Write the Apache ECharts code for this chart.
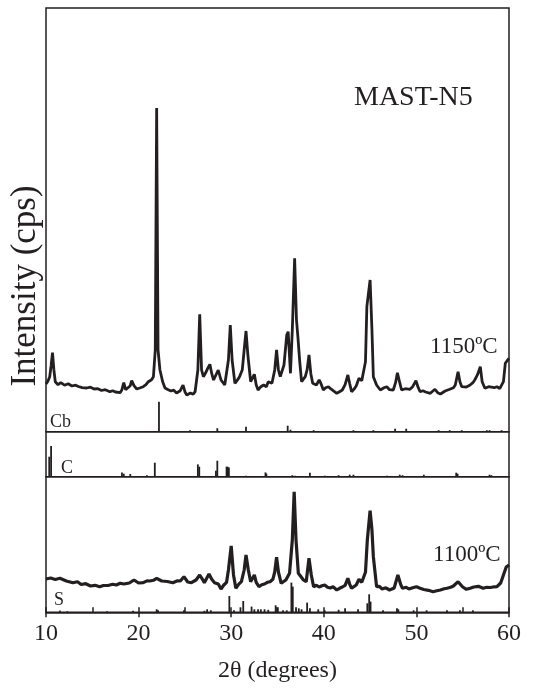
<!DOCTYPE html>
<html>
<head>
<meta charset="utf-8">
<script src="https://cdn.jsdelivr.net/npm/echarts@6/dist/echarts.min.js"></script>
<style>html,body{margin:0;padding:0;background:#fff}#c{width:538px;height:688px}</style>
</head>
<body>
<div id="c"></div>
<script>
// 1150 °C pattern (2θ, intensity in arbitrary cps units)
var t1150 = [10.0,10.2,10.4,10.55,10.7,10.85,11.0,11.3,11.6,12.0,12.4,12.8,13.2,13.5,13.9,14.4,14.8,15.2,15.6,16.0,16.4,16.9,17.2,17.5,18.0,18.2,18.4,18.6,18.8,19.1,19.25,19.5,19.8,20.2,20.5,20.8,21.05,21.4,21.6,21.8,21.95,22.1,22.3,22.6,22.85,23.2,23.5,23.8,24.1,24.5,24.8,25.0,25.2,25.6,25.9,26.1,26.4,26.6,26.8,27.0,27.3,27.5,27.7,27.9,28.1,28.3,28.6,28.9,29.1,29.3,29.7,29.9,30.1,30.4,30.7,30.9,31.2,31.4,31.6,31.8,32.1,32.5,32.7,32.9,33.2,33.5,33.8,34.0,34.4,34.7,34.9,35.1,35.3,35.7,36.0,36.15,36.4,36.6,36.85,37.05,37.2,37.4,37.6,38.0,38.2,38.4,38.6,38.8,39.2,39.5,39.7,39.95,40.2,40.5,40.8,41.0,41.4,41.7,42.0,42.3,42.6,42.8,43.0,43.3,43.5,43.8,44.1,44.3,44.5,44.65,45.0,45.2,45.35,45.7,46.1,46.5,46.8,47.1,47.5,47.75,47.95,48.2,48.4,48.8,49.3,49.6,49.95,50.2,50.4,50.7,51.0,51.5,52.0,52.3,52.6,53.1,53.6,54.0,54.2,54.5,54.7,54.9,55.4,55.8,56.1,56.3,56.6,56.9,57.1,57.4,57.8,58.0,58.4,58.7,59.0,59.2,59.4,59.6,59.8,60.0];
var i1150 = [47.7,50.5,55,66,79,62,50,47,49,46.5,48,45.7,46.5,45.2,44,43.7,44.5,42.7,43,41.2,42,40,41,39.7,39,42,49,42,40,46,51,46,42.7,44,45,47,50,52,55,81.7,323.7,81.7,62,50,43.7,42,40.7,41.5,38.7,41,46.7,40,36.7,38.7,37.5,40,61.7,117.4,61.7,55,60,64,67.4,58,51.7,53.7,61.7,51.7,50,46.7,71.7,106.7,71.7,48.4,52,55,62,81.7,100.7,76.7,50,57.4,47,41.7,45,46.7,45,50,48.4,61.7,81.7,61.7,55,66.7,96.7,100,58.4,101.7,173.4,111.7,95,70,50,55,62,76.7,58,48.4,46.7,51.7,48,41.7,44,45,42.5,40.7,38.4,40,41.7,47,56.7,48,40,43,45.7,53.4,51,50,70,125,151.7,101.7,55,46.7,41.7,44,45,42,41.7,49,59,49,41.7,43,42.4,45,51,44,40,41,39.7,38.4,42.4,39,37.7,40.7,42.4,44,46.7,60,50,45,44.7,46.7,49,51.7,57,65,50,43.4,45,43.7,44,45,43,41.7,50,68.4,71,73.4];

// 1100 °C pattern
var t1100 = [10.0,10.5,11.0,11.5,12.2,12.9,13.4,13.8,14.3,14.8,15.3,15.8,16.2,16.7,17.2,17.6,18.0,18.4,19.0,19.5,20.0,20.5,20.9,21.2,21.6,21.95,22.5,23.1,23.7,24.2,24.5,24.9,25.3,25.7,26.2,26.6,26.9,27.1,27.6,27.9,28.2,28.6,28.9,29.2,29.5,29.7,30.0,30.25,30.5,30.8,31.1,31.4,31.6,31.85,32.1,32.5,32.7,33.0,33.3,33.6,33.9,34.2,34.5,34.7,34.9,35.1,35.4,35.9,36.3,36.6,36.8,37.0,37.25,37.5,37.8,38.1,38.4,38.65,38.9,39.2,39.5,39.8,40.1,40.4,40.7,41.0,41.4,41.7,42.0,42.3,42.6,42.8,43.0,43.5,43.8,44.1,44.3,44.5,44.7,45.0,45.2,45.35,45.7,46.0,46.3,46.7,47.1,47.6,48.0,48.3,48.5,48.9,49.2,49.6,50.0,50.4,50.8,51.3,51.8,52.2,52.6,53.0,53.3,53.7,54.0,54.5,55.0,55.4,55.8,56.2,56.7,57.2,57.6,58.0,58.4,58.7,59.1,59.4,59.7,60.0];
var i1100 = [33.3,34.3,32.8,34,31.3,29.6,30.5,27.8,28.6,26.3,27,25.6,26.8,26.8,28,27.3,29,28.3,29.3,32.3,29.3,29.6,31.5,31.3,32,34,31.3,30.8,29.6,31.5,31.3,35.6,30.3,29.6,32.3,37.3,33,29.6,38.3,33,29.6,28.3,23.3,27.3,30,42.3,66.3,37.3,24,28,30.6,42.3,57.3,42.3,30.6,37.3,30,25.6,27.5,28.3,30,30.6,33,40.3,55,40.3,29,32.3,39,72.3,120.6,72.3,39,36,32.3,30.6,54,37.3,25.6,27,25.3,26.5,27.3,25,24.3,25.5,22.3,24,25.3,27,34,28,24,27.3,33,30,29,40,72.3,101.6,82.3,55.6,25.6,26,23.3,24.5,22.3,24.3,37.3,28,24,25,23.3,24.5,25.6,24,22.8,22,20.6,21.5,22.3,23.5,24,25,26.3,30.6,25.3,23,24,25.3,26,24,25,24.8,25.5,25.6,29.3,37.3,45.3,47.3];

// Reference sticks: Cb (cristobalite), C, S
var cbPos = [22.2,25.55,28.5,31.6,36.1,36.4,38.9,43.2,45.35,47.7,48.9,52.4,53.6,54.9,57.6,57.9,59.2];
var cbInt = [30,1.5,3.5,5,6,2,1.5,1.5,1.5,3,3,1.5,1.5,1.5,1.5,1.5,1.5];
var cPos = [10.35,10.55,18.2,18.4,19.1,20.9,21.75,26.4,26.55,28.35,28.5,29.5,29.6,29.75,31.6,33.7,33.8,36.6,36.9,38.5,40.1,41.6,42.8,43.2,46.8,48.2,48.5,50.8,54.3,54.45,57.9,58.1];
var cInt = [20,30.7,4.3,3,2.7,1.5,14,12.3,10,6,16,10,10,9.3,1,4.3,3,1.5,1,4,1,1.5,2,2,1,2,1.5,2,4,3,2,1.5];
var sPos = [11.5,12.3,16.6,19.4,21.95,22.1,24.9,27.1,27.4,27.8,29.8,30.3,31.0,31.3,32.2,32.5,32.9,33.2,33.6,34.0,34.8,34.95,35.6,36.0,36.5,36.65,37.0,37.3,37.6,38.2,38.5,39.4,40.1,41.6,42.3,43.7,44.7,44.9,45.05,46.4,47.9,48.05,49.7,51.1,53.3,54.7,56.1];
var sInt = [1.7,1,1,1.5,3,2,2,1.5,3,2,16.3,2,5,11.3,5.7,3,3,3,3,2.5,7,5,2,2,29.7,25.7,5,4,3,9.7,4,3,2,2.5,4,3,9,18,10.7,2,4,3,2,2,2,2,2];

var xTicks = [10,20,30,40,50,60];

function pairs(a,b){return a.map(function(v,i){return [v,b[i]];});}

var ink = '#231f20';
var serif = '"Liberation Serif","Times New Roman",serif';
var chart = echarts.init(document.getElementById('c'), null, {renderer:'canvas'});

var gridBase = {left:46, width:463, show:true, borderColor:ink, borderWidth:1.5, backgroundColor:'transparent'};
function hiddenX(gi){return {type:'value', gridIndex:gi, min:10, max:60, show:false};}
function hiddenY(gi,max){return {type:'value', gridIndex:gi, min:0, max:max, show:false};}

chart.setOption({
  animation:false,
  grid:[
    Object.assign({top:8, height:423.7}, gridBase),
    Object.assign({top:431.7, height:45}, gridBase),
    Object.assign({top:476.7, height:135.6}, gridBase)
  ],
  xAxis:[
    hiddenX(0), hiddenX(1),
    {type:'value', gridIndex:2, min:10, max:60, interval:5,
     axisLine:{show:true, lineStyle:{color:ink, width:1.5}},
     axisTick:{show:true, inside:true, length:5, lineStyle:{color:ink, width:1.5}},
     splitLine:{show:false},
     axisLabel:{color:ink, fontFamily:serif, fontSize:24, margin:9,
       formatter:function(v){return xTicks.indexOf(v)>=0 ? String(v) : '';}},
     name:'2\u03b8 (degrees)', nameLocation:'middle', nameGap:46,
     nameTextStyle:{color:ink, fontFamily:serif, fontSize:24}},
    {type:'value', gridIndex:2, min:10, max:60, interval:10, position:'bottom',
     axisLine:{show:false}, axisLabel:{show:false}, splitLine:{show:false},
     axisTick:{show:true, inside:false, length:5, lineStyle:{color:ink, width:1.5}}}
  ],
  yAxis:[hiddenY(0,423.7), hiddenY(1,45), hiddenY(2,135.6)],
  series:[
    {type:'line', xAxisIndex:0, yAxisIndex:0, data:pairs(t1150,i1150), showSymbol:false,
     lineStyle:{color:ink, width:2.8}, z:3},
    {type:'bar', xAxisIndex:0, yAxisIndex:0, data:pairs(cbPos,cbInt), barWidth:1.8,
     itemStyle:{color:ink}},
    {type:'bar', xAxisIndex:1, yAxisIndex:1, data:pairs(cPos,cInt), barWidth:1.8,
     itemStyle:{color:ink}},
    {type:'line', xAxisIndex:2, yAxisIndex:2, data:pairs(t1100,i1100), showSymbol:false,
     lineStyle:{color:ink, width:3.2}, z:3},
    {type:'bar', xAxisIndex:2, yAxisIndex:2, data:pairs(sPos,sInt), barWidth:1.8,
     itemStyle:{color:ink}}
  ],
  graphic:[
    {type:'text', left:354, top:84, style:{text:'MAST-N5', font:'28px '+serif, fill:ink}},
    {type:'text', left:430, top:335, style:{text:'1150\u00baC', font:'23px '+serif, fill:ink}},
    {type:'text', left:433, top:543, style:{text:'1100\u00baC', font:'23px '+serif, fill:ink}},
    {type:'text', left:50, top:413, style:{text:'Cb', font:'18px '+serif, fill:ink}},
    {type:'text', left:61, top:459, style:{text:'C', font:'18px '+serif, fill:ink}},
    {type:'text', left:54, top:591, style:{text:'S', font:'18px '+serif, fill:ink}},
    {type:'text', x:26, y:286, rotation:Math.PI/2,
     style:{text:'Intensity (cps)', font:'35px '+serif, fill:ink, textAlign:'center', textVerticalAlign:'middle'}}
  ]
});
</script>
</body>
</html>
